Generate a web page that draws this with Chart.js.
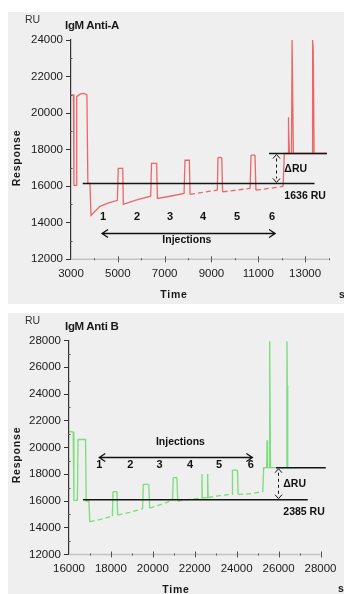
<!DOCTYPE html>
<html>
<head>
<meta charset="utf-8">
<script src="https://cdn.jsdelivr.net/npm/chart.js@4.4.1/dist/chart.umd.min.js"></script>
<style>
  body { margin: 0; width: 344px; height: 594px; overflow: hidden; position: relative; background: #fff;
         font-family: "Liberation Sans", Arial, sans-serif; color: #1a1a1a; }
  .panel { position: absolute; left: 8px; width: 336px; background: #efefef; }
  .panel canvas { position: absolute; left: 0; top: 0; }
  .t { position: absolute; white-space: nowrap; line-height: 1; }
  .c { transform: translate(-50%, -50%); }
  .rot { transform: translate(-50%, -50%) rotate(-90deg); }
  .ru { font-size: 10.5px; color: #333; }
  .ttl { font-size: 11.5px; font-weight: bold; letter-spacing: -0.3px; }
  .ax { font-size: 10.5px; font-weight: bold; letter-spacing: 0.8px; }
</style>
</head>
<body>
<div class="panel" style="top:12px;height:292px"><canvas id="chartA" width="336" height="292"></canvas></div>
<div class="panel" style="top:313px;height:281px"><canvas id="chartB" width="336" height="281"></canvas></div>

<div class="t ru" style="left:25px;top:14px">RU</div>
<div class="t ttl" style="left:65px;top:20px">IgM Anti-A</div>
<div class="t ax rot" style="left:15.5px;top:158px">Response</div>
<div class="t ax c" style="left:174px;top:294px">Time</div>
<div class="t ax" style="left:339px;top:289px">s</div>

<div class="t ru" style="left:25px;top:314.5px">RU</div>
<div class="t ttl" style="left:65px;top:320.5px">IgM Anti B</div>
<div class="t ax rot" style="left:15.5px;top:455px">Response</div>
<div class="t ax c" style="left:176px;top:588.5px">Time</div>
<div class="t ax" style="left:338px;top:583px">s</div>

<script>
// IgM Anti-A sensorgram (s, RU)
const timeA = [3000, 3105, 3125, 3225, 3245, 3400, 3550, 3680, 3720, 3810, 3855, 4025, 4240, 4580, 4980,
  5020, 5210, 5235, 5735, 6405, 6440, 6660, 6690, 7230, 7830, 7870, 8055, 8085, 8940, 9250, 9280, 9440,
  9475, 10650, 10690, 10860, 10900, 11930, 12060, 12115, 12270, 12285, 12300, 12330, 12420, 12445, 12470,
  12500, 13300, 13320, 13350, 13385, 13930];
const respA = [21000, 21000, 16050, 16050, 20900, 21050, 21080, 21000, 16150, 16150, 14400, 14630, 14900, 15070, 15230,
  16970, 16970, 15010, 15230, 15450, 17250, 17250, 15330, 15450, 15600, 17420, 17420, 15550, 15730, 15780, 17570, 17570,
  15690, 15880, 17700, 17700, 15780, 15960, 16000, 17790, 17790, 19770, 19300, 17790, 17790, 24000, 24000,
  17790, 17790, 24000, 23400, 17790, 17790];

// IgM Anti B sensorgram (s, RU)
const timeB = [16000, 16200, 16235, 16400, 16430, 16790, 16820, 16950, 16990, 17450, 18070, 18100, 18290, 18320,
  18900, 19510, 19545, 19810, 19845, 20400, 20940, 20975, 21150, 21185, 21700, 22190, 22330, 22345, 22360,
  22600, 22615, 22640, 23200, 23780, 23800, 24040, 24070, 24590, 25245, 25290, 25430, 25450, 25475, 25545,
  25560, 25590, 25615, 26375, 26400, 26415, 26435, 26900];
const respB = [21200, 21150, 16050, 16050, 20600, 20600, 16000, 16000, 14450, 14600, 14870, 16700, 16700, 14950,
  15150, 15420, 17250, 17250, 15470, 15750, 16050, 17750, 17750, 16000, 16100, 16200, 16220, 18020, 16230,
  16250, 18020, 16260, 16400, 16500, 18300, 18300, 16500, 16530, 16700, 18500, 18500, 20550, 18500, 18500,
  27950, 27950, 18500, 18500, 27950, 24600, 18500, 18500];

// reference levels (baseline / end level)
const refFromA = [3500, 11460], refToA = [13400, 13930], refLevelA = [16150, 17790];
const refFromB = [16670, 25880], refToB = [27390, 28250], refLevelB = [16100, 18485];

const injLabels = ['1', '2', '3', '4', '5', '6'];
const injTimeA = [4370, 5820, 7230, 8640, 10090, 11590];
const injTimeB = [17445, 18920, 20320, 21770, 23165, 24670];
const deltaA = '1636 RU', deltaB = '2385 RU';

const pts = (t, r) => t.map((v, i) => ({x: v, y: r[i]}));

const axisMarks = {
  id: 'axisMarks',
  afterDraw(chart) {
    const {ctx, scales: {x, y}, chartArea: a} = chart;
    ctx.save();
    ctx.strokeStyle = '#c4c4c4';
    ctx.lineWidth = 1.5;
    ctx.beginPath(); ctx.moveTo(a.left, a.bottom); ctx.lineTo(a.right, a.bottom); ctx.stroke();
    ctx.strokeStyle = '#555';
    ctx.lineWidth = 1;
    for (let v = x.min; v <= x.max; v += 1000) {
      if (v === x.min) continue;
      const px = Math.round(x.getPixelForValue(v)) + 0.5;
      const h = (v - x.min) % 2000 === 0 ? 3 : 1;
      ctx.beginPath(); ctx.moveTo(px, a.bottom - h); ctx.lineTo(px, a.bottom + h); ctx.stroke();
    }
    for (let v = y.min + 1000; v < y.max; v += 2000) {
      const py = Math.round(y.getPixelForValue(v)) + 0.5;
      ctx.beginPath(); ctx.moveTo(a.left - 1, py); ctx.lineTo(a.left + 1.5, py); ctx.stroke();
    }
    ctx.restore();
  }
};

const annotate = {
  id: 'annotate',
  afterDatasetsDraw(chart, args, o) {
    const {ctx, scales: {x, y}} = chart;
    const X = v => x.getPixelForValue(v), Y = v => y.getPixelForValue(v);
    ctx.save();
    ctx.strokeStyle = ctx.fillStyle = '#111';
    // injections double arrow
    const ay = Math.round(Y(o.arrowY)) + 0.5, a0 = X(o.arrowFrom), a1 = X(o.arrowTo);
    ctx.lineWidth = 1.3;
    ctx.beginPath();
    ctx.moveTo(a0, ay); ctx.lineTo(a1, ay);
    ctx.moveTo(a0 + 6, ay - 4); ctx.lineTo(a0, ay); ctx.lineTo(a0 + 6, ay + 4);
    ctx.moveTo(a1 - 6, ay - 4); ctx.lineTo(a1, ay); ctx.lineTo(a1 - 6, ay + 4);
    ctx.stroke();
    // delta RU arrow
    const dx = Math.round(X(o.deltaX)) + 0.5, hi = Y(o.deltaHi), lo = Y(o.deltaLo);
    ctx.lineWidth = 1;
    ctx.setLineDash([3, 3]);
    ctx.beginPath(); ctx.moveTo(dx, hi + 5); ctx.lineTo(dx, lo - 5); ctx.stroke();
    ctx.setLineDash([]);
    ctx.beginPath();
    ctx.moveTo(dx - 3.5, hi + 5); ctx.lineTo(dx, hi + 1); ctx.lineTo(dx + 3.5, hi + 5);
    ctx.moveTo(dx - 3.5, lo - 5); ctx.lineTo(dx, lo - 1); ctx.lineTo(dx + 3.5, lo - 5);
    ctx.stroke();
    // texts
    ctx.textBaseline = 'middle';
    ctx.textAlign = 'center';
    ctx.font = 'bold 11px "Liberation Sans", Arial, sans-serif';
    o.injX.forEach((t, i) => ctx.fillText(injLabels[i], X(t), Y(o.injY)));
    ctx.font = 'bold 10.5px "Liberation Sans", Arial, sans-serif';
    ctx.fillText('Injections', X(o.injTextX), Y(o.injTextY));
    ctx.textAlign = 'left';
    ctx.fillText('\u0394RU', X(o.dTextX), Y(o.dTextY));
    ctx.fillText(o.deltaLabel, X(o.vTextX), Y(o.vTextY));
    ctx.restore();
  }
};

function build(id, s) {
  const refs = s.refFrom.map((f, i) => ({
    data: [{x: f, y: s.refLevel[i]}, {x: s.refTo[i], y: s.refLevel[i]}],
    borderColor: '#151515', borderWidth: 1.5, pointRadius: 0, order: 0, clip: false
  }));
  return new Chart(document.getElementById(id), {
    type: 'line',
    data: {
      datasets: refs.concat([{
        data: pts(s.t, s.r),
        borderColor: s.color, borderWidth: 1.3, pointRadius: 0, tension: 0, order: 1, clip: false,
        segment: {
          borderDash: c => (c.p0.parsed.x >= s.dashFrom && c.p1.parsed.x <= s.dashTo &&
            Math.abs(c.p1.parsed.y - c.p0.parsed.y) < 400 && c.p1.parsed.x - c.p0.parsed.x > 100) ? [5, 3] : undefined
        }
      }])
    },
    options: {
      responsive: false, animation: false, events: [],
      layout: {padding: {top: s.padTop, right: s.padRight, left: 0, bottom: 0}},
      plugins: {legend: {display: false}, tooltip: {enabled: false}, annotate: s.ann},
      scales: {
        x: {
          type: 'linear', min: s.xmin, max: s.xmax,
          afterFit: sc => { sc.height = s.xh; },
          border: {display: false},
          grid: {display: false, drawTicks: false},
          ticks: {
            stepSize: 1000, maxTicksLimit: 30, autoSkip: false, maxRotation: 0, padding: 7.5,
            color: '#1a1a1a', font: {family: '"Liberation Sans", Arial, sans-serif', size: 11.5},
            callback: v => (v - s.xmin) % 2000 === 0 ? String(v) : ''
          }
        },
        y: {
          min: s.ymin, max: s.ymax,
          afterFit: sc => { sc.width = s.yw; },
          border: {color: '#333', width: 1.2},
          grid: {drawOnChartArea: false, tickLength: 5, tickColor: '#333'},
          ticks: {
            stepSize: 2000, padding: 3, color: '#1a1a1a',
            font: {family: '"Liberation Sans", Arial, sans-serif', size: 11.5},
            callback: v => String(v)
          }
        }
      }
    },
    plugins: [axisMarks, annotate]
  });
}

build('chartA', {
  t: timeA, r: respA, color: 'rgba(235, 80, 80, 0.85)',
  refFrom: refFromA, refTo: refToA, refLevel: refLevelA,
  dashFrom: 8080, dashTo: 12100,
  xmin: 3000, xmax: 14000, ymin: 12000, ymax: 24000,
  padTop: 28, padRight: 15.5, xh: 44.7, yw: 63,
  ann: {
    arrowY: 13440, arrowFrom: 4325, arrowTo: 11720,
    deltaX: 11750, deltaHi: refLevelA[1], deltaLo: refLevelA[0],
    injX: injTimeA, injY: 14300, injTextX: 7950, injTextY: 13040,
    dTextX: 12115, dTextY: 16930, vTextX: 12115, vTextY: 15470, deltaLabel: deltaA
  }
});

build('chartB', {
  t: timeB, r: respB, color: 'rgba(110, 220, 110, 0.9)',
  refFrom: refFromB, refTo: refToB, refLevel: refLevelB,
  dashFrom: 16950, dashTo: 25250,
  xmin: 16000, xmax: 28000, ymin: 12000, ymax: 28000,
  padTop: 27.5, padRight: 17.5, xh: 39.5, yw: 61,
  ann: {
    arrowY: 19325, arrowFrom: 17445, arrowTo: 24750,
    deltaX: 25990, deltaHi: refLevelB[1], deltaLo: refLevelB[0],
    injX: injTimeB, injY: 18675, injTextX: 21315, injTextY: 20375,
    dTextX: 26224, dTextY: 17250, vTextX: 26224, vTextY: 15175, deltaLabel: deltaB
  }
});
</script>
</body>
</html>
